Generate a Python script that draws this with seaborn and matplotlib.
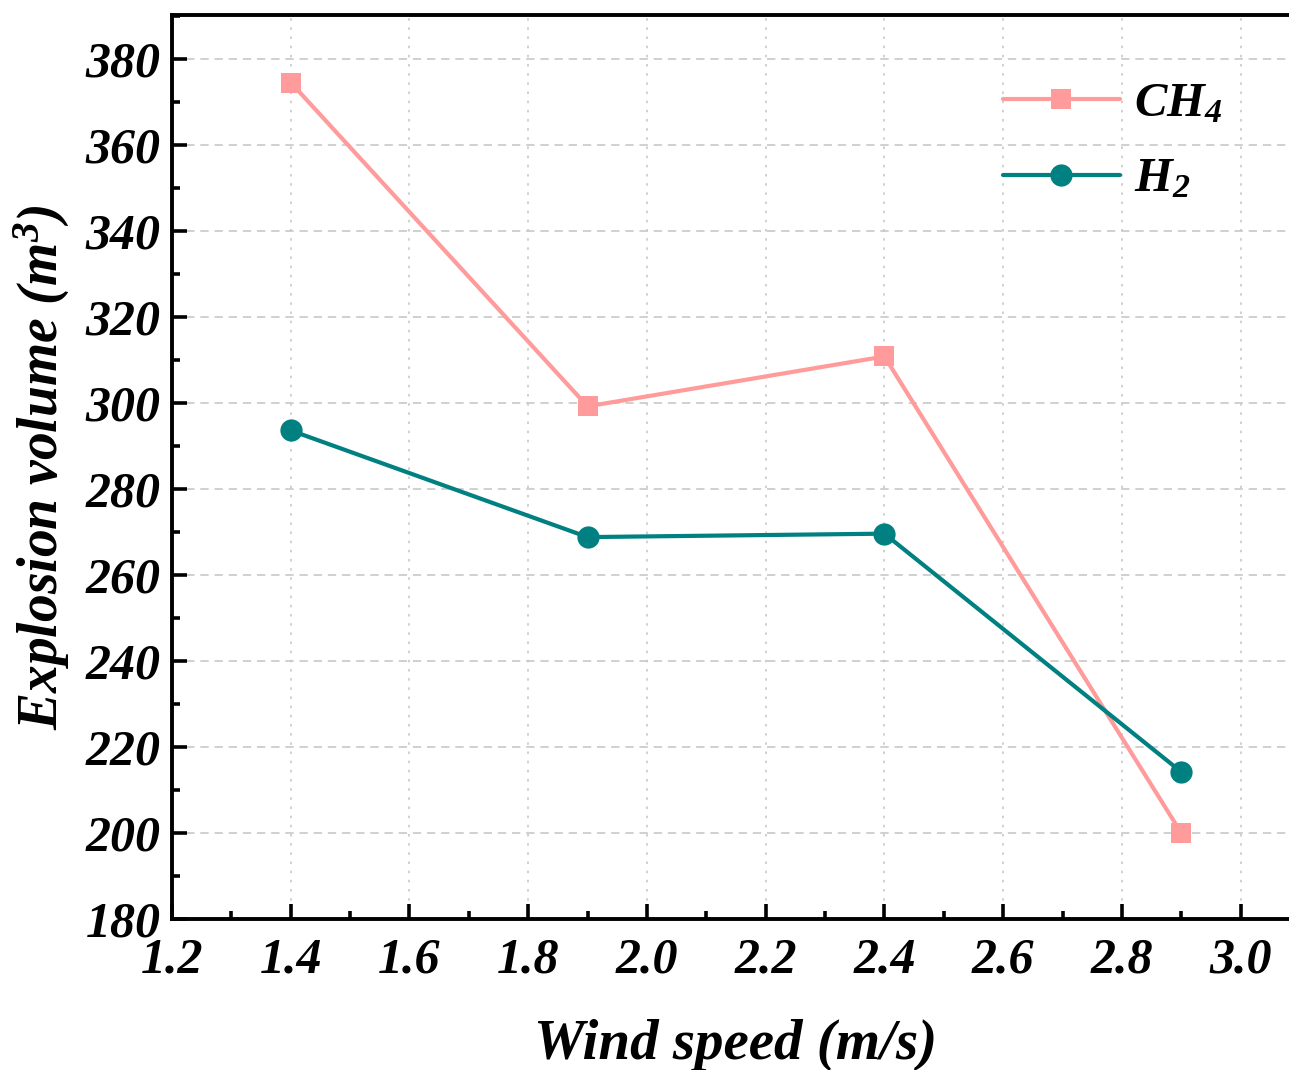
import matplotlib
matplotlib.use("Agg")
import matplotlib.pyplot as plt
from matplotlib.ticker import MultipleLocator
import seaborn as sns
import pandas as pd

# Measured explosion volumes at each wind speed
wind_speed = [1.4, 1.9, 2.4, 2.9]
ch4_volume = [374.5, 299.2, 310.8, 200.0]
h2_volume = [293.6, 268.8, 269.6, 214.2]
x_ticks = [1.2, 1.4, 1.6, 1.8, 2.0, 2.2, 2.4, 2.6, 2.8, 3.0]
x_tick_labels = ["1.2", "1.4", "1.6", "1.8", "2.0", "2.2", "2.4", "2.6", "2.8", "3.0"]

sns.set_theme(style="ticks")
plt.rcParams["font.family"] = ["Liberation Serif", "DejaVu Serif"]
plt.rcParams["font.weight"] = "bold"
plt.rcParams["font.style"] = "italic"
plt.rcParams["text.color"] = "black"
plt.rcParams["axes.labelcolor"] = "black"
plt.rcParams["mathtext.fontset"] = "custom"
plt.rcParams["mathtext.it"] = "Liberation Serif:bold:italic"
plt.rcParams["mathtext.rm"] = "Liberation Serif:bold:italic"
plt.rcParams["mathtext.bf"] = "Liberation Serif:bold:italic"
plt.rcParams["mathtext.default"] = "it"

df_ch4 = pd.DataFrame({"speed": wind_speed, "volume": ch4_volume})
df_h2 = pd.DataFrame({"speed": wind_speed, "volume": h2_volume})

W, H = 1289, 1070
fig = plt.figure(figsize=(W / 100, H / 100), dpi=100)
ax = fig.add_axes([172 / W, (H - 919) / H, (1300 - 172) / W, (919 - 15) / H])

sns.lineplot(data=df_ch4, x="speed", y="volume", ax=ax, color="#FF9B9B",
             marker="s", markersize=14.5, markeredgewidth=0, linewidth=3,
             label=r"$CH_4$")
sns.lineplot(data=df_h2, x="speed", y="volume", ax=ax, color="#008080",
             marker="o", markersize=16, markeredgewidth=0, linewidth=3,
             label=r"$H_2$")

ax.xaxis.set_minor_locator(MultipleLocator(0.1))
ax.yaxis.set_major_locator(MultipleLocator(20))
ax.yaxis.set_minor_locator(MultipleLocator(10))
ax.set_xticks(x_ticks)
ax.set_xticklabels(x_tick_labels)
ax.set_xlim(1.2, 3.1)
ax.set_ylim(180, 390.2)

ax.grid(axis="x", which="major", linestyle=(0, (1.5, 4)), color="#C8C8C8", linewidth=1.2)
ax.grid(axis="y", which="major", linestyle=(0, (5, 3.5)), color="#C8C8C8", linewidth=1.2)
ax.set_axisbelow(True)

for side in ["left", "bottom", "top", "right"]:
    ax.spines[side].set_linewidth(2.8)
    ax.spines[side].set_color("black")

ax.tick_params(axis="both", which="major", direction="in", length=11, width=2.6,
               labelsize=36, color="black", labelcolor="black")
ax.tick_params(axis="both", which="minor", direction="in", length=6, width=2.6,
               color="black")
ax.tick_params(axis="x", which="both", pad=13)
ax.tick_params(axis="y", which="both", pad=8)
for lab in ax.get_xticklabels() + ax.get_yticklabels():
    lab.set_fontweight("bold")
    lab.set_fontstyle("italic")

ax.set_xlabel("Wind speed (m/s)", fontsize=41, fontweight="bold", fontstyle="italic",
              labelpad=26, color="black")
ax.set_ylabel(r"Explosion volume (m$^3$)", fontsize=40, fontweight="bold",
              fontstyle="italic", labelpad=10, color="black")

leg = ax.legend(loc="upper left", bbox_to_anchor=(1003 / W, (H - 82) / H),
                bbox_transform=fig.transFigure, frameon=False, fontsize=35,
                handlelength=2.4, handletextpad=0.3, labelspacing=0.65,
                borderpad=0, borderaxespad=0)
for t in leg.get_texts():
    t.set_color("black")

fig.savefig("out.png", dpi=100)
